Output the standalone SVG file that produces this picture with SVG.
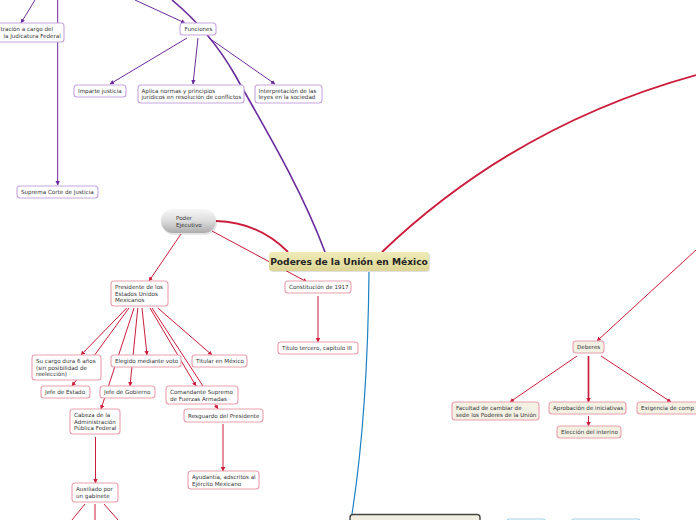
<svg xmlns="http://www.w3.org/2000/svg" width="696" height="520" viewBox="0 0 696 520">
<style>
text{font-family:"DejaVu Sans","Verdana",sans-serif;font-size:5.6px;fill:#333}
.p{fill:#fff;stroke:#c5a5dc;stroke-width:1.1}
.r{fill:#fff;stroke:#e99fae;stroke-width:1.1}
.b{fill:#f3f0e4;stroke:#e99fae;stroke-width:1.1}
.lp{fill:none;stroke:#6a2c9c;stroke-width:1}
.lr{fill:none;stroke:#cc1d3c;stroke-width:1}
.lb{fill:none;stroke:#1d82c2;stroke-width:1.2}
.ap{marker-end:url(#mp)}
.ar{marker-end:url(#mr)}
</style>
<defs>
<marker id="mp" markerUnits="userSpaceOnUse" markerWidth="5" markerHeight="5" refX="4" refY="2.2" orient="auto"><path d="M0,0 L4.4,2.2 L0,4.4 z" fill="#6a2c9c"/></marker>
<marker id="mr" markerUnits="userSpaceOnUse" markerWidth="5" markerHeight="5" refX="4" refY="2.2" orient="auto"><path d="M0,0 L4.4,2.2 L0,4.4 z" fill="#cc1d3c"/></marker>
<linearGradient id="gc" x1="0" y1="0" x2="0" y2="1"><stop offset="0" stop-color="#f0ecb8"/><stop offset="1" stop-color="#ddd595"/></linearGradient>
<linearGradient id="ge" x1="0" y1="0" x2="0" y2="1"><stop offset="0" stop-color="#f7f7f7"/><stop offset="0.5" stop-color="#dcdcdc"/><stop offset="1" stop-color="#ababab"/></linearGradient>
</defs>

<g id="connectors">
<path class="lp" style="stroke-width:1.6" d="M325,252 C300,185 260,120 235,75 C215,40 190,15 172,0"/>
<path class="lp ap" d="M135,0 L185,23"/>
<path class="lp ap" d="M35,0 L21,23"/>
<path class="lp ap" d="M57.7,0 L57.7,185"/>
<path class="lp ap" d="M187,38 L110,84"/>
<path class="lp ap" d="M198,38 L193,84"/>
<path class="lp ap" d="M209,38 L275,84"/>
<path class="lr" style="stroke-width:1.8" d="M216,221 Q258,222 288,252"/>
<path class="lr" style="stroke-width:1.8" d="M382,252 Q515,125 696,75"/>
<path class="lr ar" d="M212,231 L307,282"/>
<path class="lr ar" d="M318,296 L318,342"/>
<path class="lr ar" d="M181,234 L149,281"/>
<path class="lr ar" d="M126.7,308 L81,355"/>
<path class="lr ar" d="M129,308 L72,386"/>
<path class="lr ar" d="M134,308 L101,409"/>
<path class="lr ar" d="M137.8,308 L130,386"/>
<path class="lr ar" d="M142,308 L147,355"/>
<path class="lr ar" d="M150,308 L196,386"/>
<path class="lr ar" d="M152,308 L218,409"/>
<path class="lr ar" d="M157.8,308 L212,355"/>
<path class="lr ar" d="M95.5,437 L95.5,483"/>
<path class="lr ar" d="M223,424 L223,471"/>
<path class="lr" d="M85,504 L72,520"/>
<path class="lr" d="M95,504 L95,520"/>
<path class="lr" d="M104,504 L118,520"/>
<path class="lr ar" d="M696,250 L597,341"/>
<path class="lr ar" d="M577,356 L510,402"/>
<path class="lr ar" style="stroke-width:1.7" d="M588.5,356 L588.5,402"/>
<path class="lr ar" d="M601,356 L671,402"/>
<path class="lr ar" d="M588.5,416 L588.5,426"/>
<path class="lb" d="M369,272 C368,380 362,450 352,514"/>
</g>

<g id="n-central">
<rect x="270" y="253" width="160" height="19" rx="3" fill="#000" opacity="0.12"/>
<rect x="269" y="252" width="160" height="19" rx="3" fill="url(#gc)"/>
<text x="349" y="265" text-anchor="middle" style="font-size:9.1px;font-weight:bold;fill:#222">Poderes de la Unión en México</text>
</g>

<g id="n-ejecutivo">
<rect x="162" y="211" width="55" height="24" rx="12" fill="#000" opacity="0.1"/>
<rect x="161" y="209" width="55" height="24" rx="12" fill="url(#ge)"/>
<text x="176" y="220">Poder</text>
<text x="176" y="226.5">Ejecutivo</text>
</g>

<g id="n-admin">
<rect class="p" x="-34" y="23" width="98" height="19" rx="3"/>
<text x="0.5" y="31">tración a cargo del</text>
<text x="3.4" y="37.5">la Judicatura Federal</text>
</g>
<g id="n-funciones">
<rect class="p" x="180" y="23" width="36" height="12" rx="3"/>
<text x="184.5" y="31.2">Funciones</text>
</g>
<g id="n-imparte">
<rect class="p" x="74" y="85" width="52" height="12" rx="3"/>
<text x="78" y="93">Imparte justicia</text>
</g>
<g id="n-aplica">
<rect class="p" x="138" y="85" width="106" height="18" rx="3"/>
<text x="141.5" y="92.5">Aplica normas y principios</text>
<text x="141.5" y="99">jurídicos en resolución de conflictos</text>
</g>
<g id="n-interpretacion">
<rect class="p" x="255" y="85" width="67" height="18" rx="3"/>
<text x="258.5" y="92.5">Interpretación de las</text>
<text x="258.5" y="99">leyes en la sociedad</text>
</g>
<g id="n-suprema">
<rect class="p" x="17" y="186" width="81" height="12" rx="3"/>
<text x="21" y="194">Suprema Corte de Justicia</text>
</g>

<g id="n-constitucion">
<rect class="r" x="285" y="281" width="66" height="12" rx="3"/>
<text x="289" y="289.3">Constitución de 1917</text>
</g>
<g id="n-titulo">
<rect class="r" x="278" y="342" width="80" height="12" rx="3"/>
<text x="282" y="350.3">Título tercero, capítulo III</text>
</g>
<g id="n-presidente">
<rect class="r" x="111" y="281" width="57" height="25" rx="3"/>
<text x="115" y="289">Presidente de los</text>
<text x="115" y="295.7">Estados Unidos</text>
<text x="115" y="302.2">Mexicanos</text>
</g>
<g id="n-sucargo">
<rect class="r" x="32" y="355" width="69" height="25" rx="3"/>
<text x="36" y="363">Su cargo dura 6 años</text>
<text x="36" y="369.7">(sin posibilidad de</text>
<text x="36" y="376.2">reelección)</text>
</g>
<g id="n-elegido">
<rect class="r" x="111" y="355" width="70" height="12" rx="3"/>
<text x="115" y="363.2">Elegido mediante voto</text>
</g>
<g id="n-titular">
<rect class="r" x="192" y="355" width="55" height="12" rx="3"/>
<text x="196" y="363.2">Titular en México</text>
</g>
<g id="n-jefeestado">
<rect class="r" x="41" y="386" width="49" height="12" rx="3"/>
<text x="45" y="394.2">Jefe de Estado</text>
</g>
<g id="n-jefegobierno">
<rect class="r" x="100" y="386" width="55" height="12" rx="3"/>
<text x="104" y="394.2">Jefe de Gobierno</text>
</g>
<g id="n-comandante">
<rect class="r" x="166" y="386" width="72" height="18" rx="3"/>
<text x="170" y="394">Comandante Supremo</text>
<text x="170" y="400.5">de Fuerzas Armadas</text>
</g>
<g id="n-resguardo">
<rect class="r" x="184" y="409" width="79" height="13" rx="3"/>
<text x="188" y="417.5">Resguardo del Presidente</text>
</g>
<g id="n-cabeza">
<rect class="r" x="70" y="409" width="50" height="25" rx="3"/>
<text x="74" y="417">Cabeza de la</text>
<text x="74" y="423.5">Administración</text>
<text x="74" y="430.2">Pública Federal</text>
</g>
<g id="n-auxiliado">
<rect class="r" x="72" y="483" width="46" height="19" rx="3"/>
<text x="76" y="491">Auxiliado por</text>
<text x="76" y="497.5">un gabinete</text>
</g>
<g id="n-ayudantia">
<rect class="r" x="188" y="471" width="71" height="18" rx="3"/>
<text x="192" y="479">Ayudantía, adscritos al</text>
<text x="192" y="485.5">Ejército Mexicano</text>
</g>

<g id="n-deberes">
<rect class="b" x="573" y="341" width="31" height="12" rx="3"/>
<text x="577" y="349.3">Deberes</text>
</g>
<g id="n-facultad">
<rect class="b" x="452" y="402" width="87" height="18" rx="3"/>
<text x="456" y="410">Facultad de cambiar de</text>
<text x="456" y="416.7">sede los Poderes de la Unión</text>
</g>
<g id="n-aprobacion">
<rect class="b" x="549" y="402" width="77" height="12" rx="3"/>
<text x="553" y="410.2">Aprobación de iniciativas</text>
</g>
<g id="n-exigencia">
<rect class="b" x="637" y="402" width="90" height="12" rx="3"/>
<text x="641" y="410.2">Exigencia de comp</text>
</g>
<g id="n-eleccion">
<rect class="b" x="557" y="426" width="64" height="12" rx="3"/>
<text x="561" y="434.2">Elección del interino</text>
</g>

<g id="n-bottom">
<rect x="350" y="514.5" width="130" height="20" rx="3" fill="#f1eee1" stroke="#444" stroke-width="1.4"/>
</g>
<g id="n-blue1">
<rect x="507" y="519" width="38" height="14" rx="2" fill="#fff" stroke="#9fd2e6" stroke-width="1.2"/>
</g>
<g id="n-blue2">
<rect x="572" y="519" width="68" height="14" rx="2" fill="#fff" stroke="#9fd2e6" stroke-width="1.2"/>
</g>
</svg>
